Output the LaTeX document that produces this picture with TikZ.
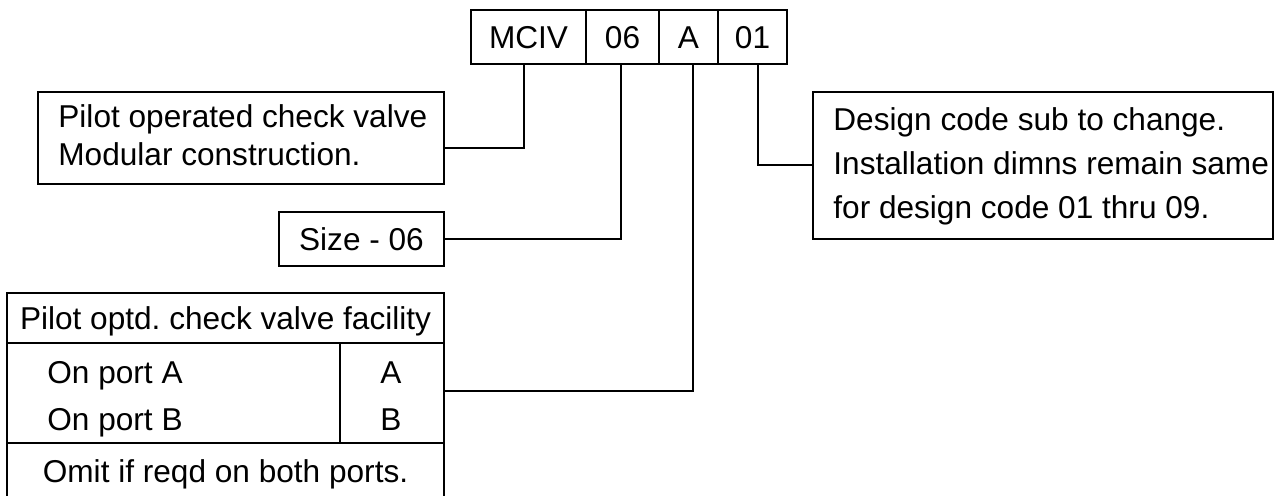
\documentclass[tikz,border=0pt]{standalone}
\usepackage{fontspec}
\setmainfont{Liberation Sans}
\begin{document}
\frenchspacing
\begin{tikzpicture}[x=0.5pt,y=-0.5pt,
  every node/.style={font=\fontsize{15.8pt}{18pt}\selectfont},
  box/.style={draw, line width=1pt, inner sep=0pt, text height=11.3pt, text depth=0pt},
  txt/.style={inner sep=0pt, text height=11.3pt, text depth=0pt},
  link/.style={draw, line width=1pt}]
\useasboundingbox (0,0) rectangle (1275,496);
% code cells
\node[box, minimum width=57.5pt, minimum height=27pt] (mciv) at (528.5,37) {MCIV};
\node[box, minimum width=36.5pt, minimum height=27pt] (c06) at (622.5,37) {06};
\node[box, minimum width=29.5pt, minimum height=27pt] (cA) at (688.5,37) {A};
\node[box, minimum width=34.5pt, minimum height=27pt] (c01) at (752.5,37) {01};
% left description
\node[box, minimum width=203pt, minimum height=46pt] (pilot) at (241,138) {};
\node[txt, anchor=west] (pilot1) at (58,116) {Pilot operated check valve};
\node[txt, anchor=west] (pilot2) at (58,154) {Modular construction.};
% size
\node[box, minimum width=82.5pt, minimum height=27pt] (size) at (361.5,239) {Size - 06};
% right description
\node[box, minimum width=230pt, minimum height=73.5pt] (design) at (1043,165.5) {};
\node[txt, anchor=west] (design1) at (833,119) {Design code sub to change.};
\node[txt, anchor=west] (design2) at (833,163) {Installation dimns remain same};
\node[txt, anchor=west] (design3) at (833,207.5) {for design code 01 thru 09.};
% table
\node[box, minimum width=218.5pt, minimum height=25pt] (thead) at (225.5,318) {Pilot optd. check valve facility};
\node[box, minimum width=166.5pt, minimum height=50pt] (trows) at (173.5,393) {};
\node[box, minimum width=52pt, minimum height=50pt] (tcodes) at (392,393) {};
\node[box, minimum width=218.5pt, minimum height=28pt] (tfoot) at (225.5,471) {Omit if reqd on both ports.};
\node[txt, anchor=west] (portA) at (47,372.5) {On port A};
\node[txt, anchor=west] (portB) at (47,419) {On port B};
\node[txt] (codeA) at (391,372.5) {A};
\node[txt] (codeB) at (391,419) {B};
% connectors
\draw[link] ([xshift=-2.25pt]mciv.south) |- ([yshift=-5pt]pilot.east);
\draw[link] ([xshift=-0.75pt]c06.south) |- (size.east);
\draw[link] ([xshift=2.25pt]cA.south) |- ([yshift=1pt]tcodes.east);
\draw[link] ([xshift=2.75pt]c01.south) |- (design.west);
\end{tikzpicture}
\end{document}
